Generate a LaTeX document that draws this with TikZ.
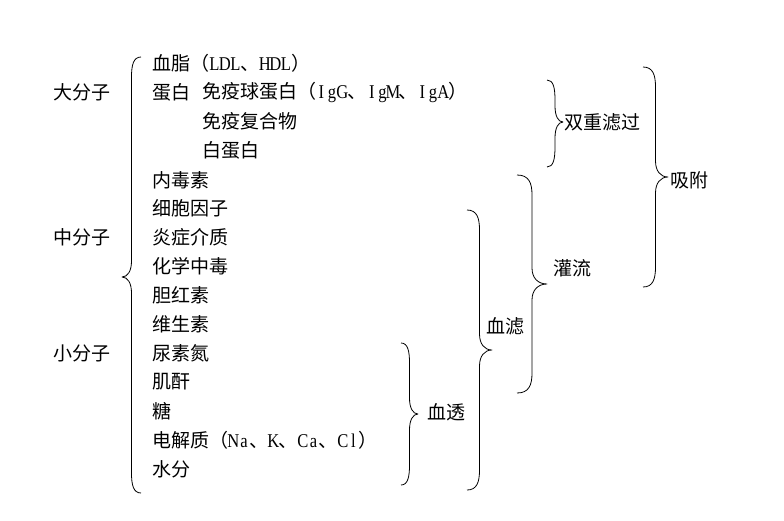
\documentclass[tikz,border=0pt]{standalone}
\usepackage{fontspec}
\setmainfont{Noto Sans CJK SC}
\newfontfamily\latf[FakeStretch=0.85]{Liberation Serif}
\newcommand\m[1]{\makebox[10.5pt]{\latf\fontsize{19.5}{20}\selectfont #1}}
\tikzset{
  txt/.style={anchor=west,inner sep=0pt,font=\fontsize{19}{20}\selectfont},
  bracestyle/.style={line width=0.8pt,line join=round}
}
\newcommand\wbrace[5]{%
 \pgfmathsetmacro\bxc{(#1+#2)/2}%
 \pgfmathsetmacro\bxa{#1+0.8*(\bxc-#1)}%
 \pgfmathsetmacro\bxb{\bxc+0.4*(#2-\bxc)}%
 \draw[bracestyle] (#1,#3) .. controls (\bxa,#3) and (\bxc,#3+8) .. (\bxc,#3+20) -- (\bxc,#5-16) .. controls (\bxc,#5-6) and (\bxb,#5) .. (#2,#5) .. controls (\bxb,#5) and (\bxc,#5+6) .. (\bxc,#5+16) -- (\bxc,#4-20) .. controls (\bxc,#4-8) and (\bxa,#4) .. (#1,#4);%
}
\begin{document}
\begin{tikzpicture}[x=1pt,y=-1pt]
\useasboundingbox[fill=white] (0,0) rectangle (784,520);
% left labels
\node[txt] (big) at (53,92) {大分子};
\node[txt] (mid) at (53,237) {中分子};
\node[txt] (small) at (53,353) {小分子};
% items
\node[txt] (r0) at (152,63) {血脂（\m{L}\m{D}\m{L}、\m{H}\m{D}\m{L}）};
\node[txt] (r1) at (152,92) {蛋白};
\node[txt] (r1b) at (202,92) {免疫球蛋白（\m{I}\m{g}\m{G}、\m{I}\m{g}\m{M}、\m{I}\m{g}\m{A}）};
\node[txt] (r2) at (202,121) {免疫复合物};
\node[txt] (r3) at (202,150) {白蛋白};
\node[txt] (r4) at (152,180) {内毒素};
\node[txt] (r5) at (152,208) {细胞因子};
\node[txt] (r6) at (152,237) {炎症介质};
\node[txt] (r7) at (152,266) {化学中毒};
\node[txt] (r8) at (152,295) {胆红素};
\node[txt] (r9) at (152,324) {维生素};
\node[txt] (r10) at (152,353) {尿素氮};
\node[txt] (r11) at (152,382) {肌酐};
\node[txt] (r12) at (152,411) {糖};
\node[txt] (r13) at (152,440) {电解质（\m{N}\m{a}、\m{K}、\m{C}\m{a}、\m{C}\m{l}）};
\node[txt] (r14) at (152,469) {水分};
% right labels
\node[txt] (dfpp) at (564,122) {双重滤过};
\node[txt] (ads) at (670,180) {吸附};
\node[txt] (hp) at (553,268) {灌流};
\node[txt] (hf) at (486,326) {血滤};
\node[txt] (hd) at (427,412) {血透};
% braces
\wbrace{141}{122}{57}{493}{277}
\wbrace{401}{418}{343}{485}{414}
\wbrace{467}{492}{210}{490}{350}
\wbrace{517}{547}{175}{393}{284}
\wbrace{547}{563}{80}{167}{122}
\wbrace{643}{668}{67}{287}{177}
\end{tikzpicture}
\end{document}
